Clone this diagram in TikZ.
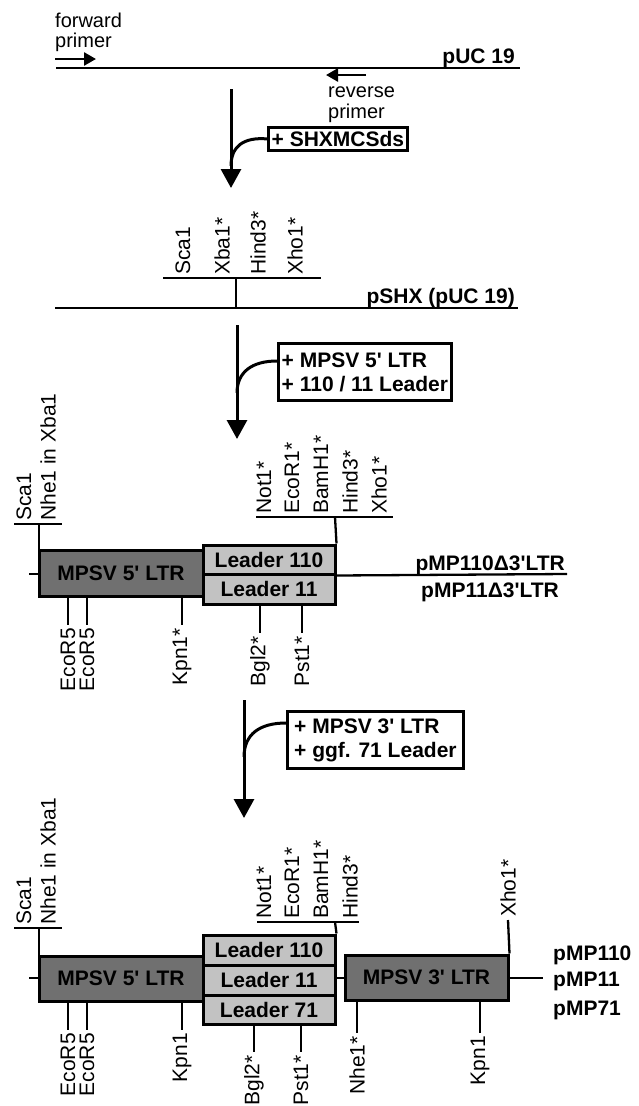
\documentclass[tikz,border=0pt]{standalone}
\usepackage{fontspec}
\setmainfont[Ligatures=TeXOff]{Liberation Sans}
\usetikzlibrary{arrows.meta}
\definecolor{ltrgray}{RGB}{112,112,112}
\definecolor{leadgray}{RGB}{194,194,194}
\tikzset{
  reg/.style={font=\fontsize{20}{22}\selectfont, inner sep=0pt},
  bl/.style={font=\fontsize{21}{24}\selectfont\bfseries, inner sep=0pt},
  up/.style={font=\fontsize{21}{24}\selectfont, inner sep=0pt, rotate=90, anchor=west},
  dn/.style={font=\fontsize{21}{24}\selectfont, inner sep=0pt, rotate=90, anchor=east},
  ln/.style={line width=2.3pt},
  flow/.style={line width=3pt, -{Triangle[length=19pt,width=20pt]}},
  bendline/.style={line width=3pt},
  primer/.style={line width=2.6pt, -{Triangle[length=12pt,width=13pt]}},
  addbox/.style={draw, line width=2.8pt, fill=white, bl, align=left, inner sep=3pt, anchor=north west},
  ltr/.style={draw, line width=3pt, fill=ltrgray, bl, inner sep=0pt},
  lead/.style={draw, line width=3pt, fill=leadgray, bl, inner sep=0pt, minimum width=132pt},
}
\begin{document}
\begin{tikzpicture}[x=1pt,y=-1pt]
\useasboundingbox (0,0) rectangle (638,1106);
% ---------------- pUC 19
\node[reg, anchor=base west] (fwd1) at (55,27) {forward};
\node[reg, anchor=base west] (fwd2) at (55,47) {primer};
\coordinate (fp0) at (55,59); \coordinate (fp1) at (96,59);
\draw[primer] (fp0) -- (fp1);
\coordinate (puL) at (56,68); \coordinate (puR) at (520,68);
\draw[ln] (puL) -- (puR);
\node[bl, anchor=base east] (puc) at (515,63) {pUC 19};
\coordinate (rp0) at (366,75); \coordinate (rp1) at (326,75);
\draw[primer] (rp0) -- (rp1);
\node[reg, anchor=base west] (rev1) at (328,97) {reverse};
\node[reg, anchor=base west] (rev2) at (328,118) {primer};
% step 1
\coordinate (a1s) at (231,89); \coordinate (a1e) at (231,188);
\draw[flow] (a1s) -- (a1e);
\node[addbox, minimum width=139pt, minimum height=23pt] (b1) at (267,126) {+ SHXMCSds};
\coordinate (a1j) at (231,166);
\draw[bendline] (b1.west) .. controls (244,137) and (231,146) .. (a1j);
% ---------------- pSHX
\node[up] (s1) at (183,275) {Sca1};
\node[up] (s2) at (222,275) {Xba1*};
\node[up] (s3) at (258,275) {Hind3*};
\node[up] (s4) at (295,275) {Xho1*};
\coordinate (sb0) at (163,278); \coordinate (sb1) at (321,278);
\draw[ln] (sb0) -- (sb1);
\coordinate (sv0) at (236,278); \coordinate (sv1) at (236,308);
\draw[ln] (sv0) -- (sv1);
\coordinate (pxL) at (55,308); \coordinate (pxR) at (518,308);
\draw[ln] (pxL) -- (pxR);
\node[bl, anchor=base east] (pshx) at (515,303) {pSHX (pUC 19)};
% step 2
\coordinate (a2s) at (237,325); \coordinate (a2e) at (237,439);
\draw[flow] (a2s) -- (a2e);
\node[addbox, minimum width=173pt, minimum height=57pt] (b2) at (277,342) {+ MPSV 5' LTR\\+ 110 / 11 Leader};
\coordinate (c2s) at (277,361); \coordinate (a2j) at (237,393);
\draw[bendline] (c2s) .. controls (252,361) and (237,372) .. (a2j);
% ---------------- pMP110 delta 3'LTR
\node[up] (m1) at (24,521) {Sca1};
\node[up] (m2) at (48,521) {Nhe1 in Xba1};
\coordinate (mb0) at (14,524); \coordinate (mb1) at (62,524);
\draw[ln] (mb0) -- (mb1);
\coordinate (mv0) at (39,524); \coordinate (mv1) at (39,550);
\draw[ln] (mv0) -- (mv1);
\coordinate (ms0) at (29,574); \coordinate (ms1) at (39,574);
\draw[ln] (ms0) -- (ms1);
\node[ltr, minimum width=164pt, minimum height=46pt] (d1) at (121,573) {MPSV 5' LTR};
\node[lead, minimum height=29pt] (l110a) at (269,559.5) {Leader 110};
\node[lead, minimum height=30pt] (l11a) at (269,589) {Leader 11};
\coordinate (mlR) at (567,574);
\draw[ln] (l110a.south east) -- (mlR);
\node[bl, anchor=base east] (pmd1) at (565,570) {pMP110Δ3'LTR};
\node[bl, anchor=base east] (pmd2) at (559,597) {pMP11Δ3'LTR};
\node[up] (t1) at (264,514) {Not1*};
\node[up] (t2) at (292,514) {EcoR1*};
\node[up] (t3) at (321,514) {BamH1*};
\node[up] (t4) at (350,514) {Hind3*};
\node[up] (t5) at (379,514) {Xho1*};
\coordinate (tb0) at (256,517); \coordinate (tb1) at (393,517);
\draw[ln] (tb0) -- (tb1);
\coordinate (tv0) at (335,517);
\draw[ln] (tv0) -- (l110a.north east);
% bottom ticks
\coordinate (e1a) at (68,596); \coordinate (e1b) at (68,625);
\coordinate (e2a) at (87,596); \coordinate (e2b) at (87,625);
\coordinate (k1a) at (182,596); \coordinate (k1b) at (182,625);
\coordinate (g1a) at (260,604); \coordinate (g1b) at (260,633);
\coordinate (p1a) at (302,604); \coordinate (p1b) at (302,633);
\draw[ln] (e1a) -- (e1b) (e2a) -- (e2b) (k1a) -- (k1b) (g1a) -- (g1b) (p1a) -- (p1b);
\node[dn] (e1) at (68,628) {EcoR5};
\node[dn] (e2) at (87,628) {EcoR5};
\node[dn] (k1) at (182,628) {Kpn1*};
\node[dn] (g1) at (260,636) {Bgl2*};
\node[dn] (p1) at (302,636) {Pst1*};
% step 3
\coordinate (a3s) at (244,700); \coordinate (a3e) at (244,818);
\draw[flow] (a3s) -- (a3e);
\node[addbox, minimum width=176pt, minimum height=57pt] (b3) at (286,710) {+ MPSV 3' LTR\\+ ggf. 71 Leader};
\coordinate (c3s) at (286,723); \coordinate (a3j) at (244,757);
\draw[bendline] (c3s) .. controls (260,723) and (244,734) .. (a3j);
% ---------------- pMP110 / pMP11 / pMP71
\node[up] (n1) at (24,925) {Sca1};
\node[up] (n2) at (48,925) {Nhe1 in Xba1};
\coordinate (nb0) at (14,928); \coordinate (nb1) at (62,928);
\draw[ln] (nb0) -- (nb1);
\coordinate (nv0) at (39,928); \coordinate (nv1) at (39,956);
\draw[ln] (nv0) -- (nv1);
\coordinate (ns0) at (29,978); \coordinate (ns1) at (39,978);
\draw[ln] (ns0) -- (ns1);
\node[ltr, minimum width=164pt, minimum height=45pt] (d2) at (121,978.5) {MPSV 5' LTR};
\node[lead, minimum height=30pt] (l110b) at (269,950) {Leader 110};
\node[lead, minimum height=30pt] (l11b) at (269,980) {Leader 11};
\node[lead, minimum height=29pt] (l71b) at (269,1009.5) {Leader 71};
\coordinate (cj0) at (335,978); \coordinate (cj1) at (345,978);
\draw[ln] (cj0) -- (cj1);
\node[ltr, minimum width=163pt, minimum height=45pt] (d3) at (426.5,977.5) {MPSV 3' LTR};
\coordinate (rl0) at (508,978); \coordinate (rl1) at (543,978);
\draw[ln] (rl0) -- (rl1);
\node[bl, anchor=base west] (f1) at (553,960) {pMP110};
\node[bl, anchor=base west] (f2) at (553,986) {pMP11};
\node[bl, anchor=base west] (f3) at (553,1015) {pMP71};
\node[up] (u1) at (264,919) {Not1*};
\node[up] (u2) at (292,919) {EcoR1*};
\node[up] (u3) at (321,919) {BamH1*};
\node[up] (u4) at (350,919) {Hind3*};
\coordinate (ub0) at (257,922); \coordinate (ub1) at (359,922);
\draw[ln] (ub0) -- (ub1);
\coordinate (uv0) at (335,922);
\draw[ln] (uv0) -- (l110b.north east);
\node[up] (x5) at (508,917) {Xho1*};
\coordinate (xv0) at (508,920);
\draw[ln] (xv0) -- (d3.north east);
% bottom ticks
\coordinate (f1a) at (68,1001); \coordinate (f1b) at (68,1030);
\coordinate (f2a) at (87,1001); \coordinate (f2b) at (87,1030);
\coordinate (f3a) at (182,1001); \coordinate (f3b) at (182,1030);
\coordinate (f4a) at (254,1024); \coordinate (f4b) at (254,1052);
\coordinate (f5a) at (301,1024); \coordinate (f5b) at (301,1052);
\coordinate (f6a) at (357,1000); \coordinate (f6b) at (357,1033);
\coordinate (f7a) at (480,1000); \coordinate (f7b) at (480,1033);
\draw[ln] (f1a) -- (f1b) (f2a) -- (f2b) (f3a) -- (f3b) (f4a) -- (f4b) (f5a) -- (f5b) (f6a) -- (f6b) (f7a) -- (f7b);
\node[dn] (q1) at (68,1033) {EcoR5};
\node[dn] (q2) at (87,1033) {EcoR5};
\node[dn] (q3) at (182,1033) {Kpn1};
\node[dn] (q4) at (254,1055) {Bgl2*};
\node[dn] (q5) at (301,1055) {Pst1*};
\node[dn] (q6) at (357,1036) {Nhe1*};
\node[dn] (q7) at (480,1036) {Kpn1};
\end{tikzpicture}
\end{document}
